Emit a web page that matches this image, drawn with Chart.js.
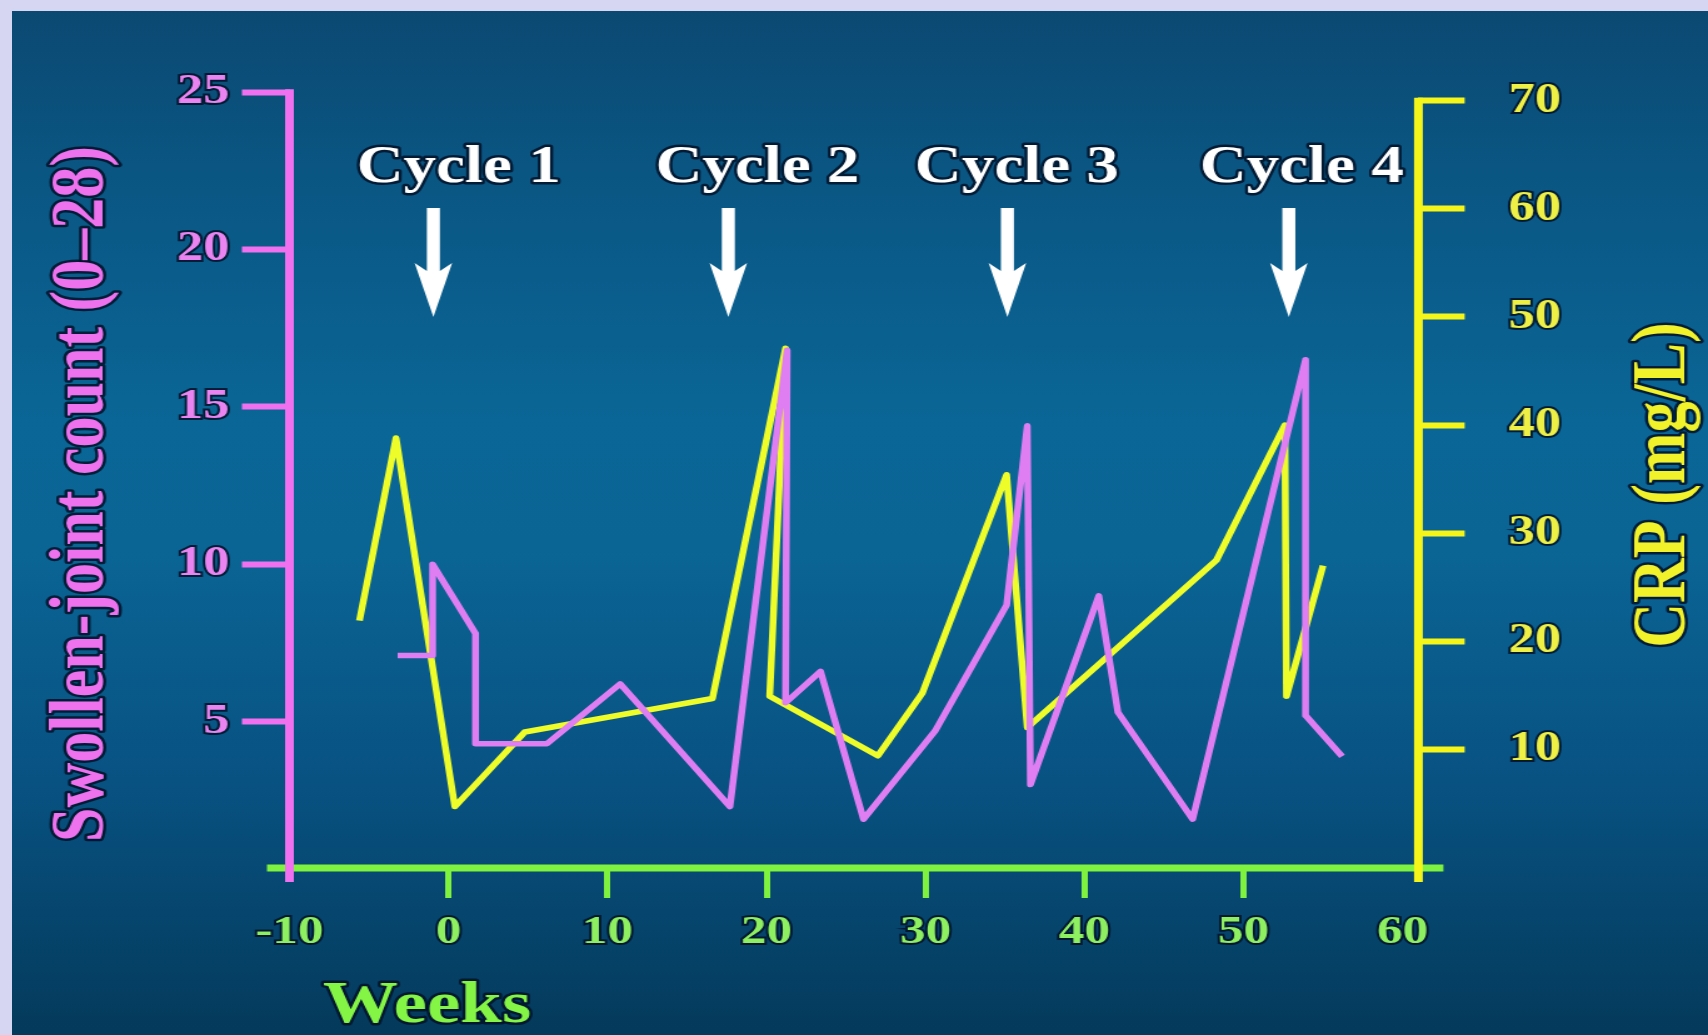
<!DOCTYPE html>
<html>
<head>
<meta charset="utf-8">
<script src="https://cdn.jsdelivr.net/npm/chart.js@4.4.1/dist/chart.umd.min.js"></script>
<style>
  html, body { margin: 0; padding: 0; width: 1708px; height: 1035px; overflow: hidden; background: #d6d6f2; }
  #panel {
    position: absolute; left: 12px; top: 11px; right: 0; bottom: 0;
    background: linear-gradient(to bottom, #0b4972 0%, #0a5582 15%, #0a6696 40%, #0a6595 52%, #085282 75%, #043a5b 100%);
  }
  /* slide layout is drawn at 4:3 proportions and widened to the page */
  #wrap { position: absolute; left: 0; top: 0; width: 1366px; height: 1035px; transform: scaleX(1.25037); transform-origin: 0 0; }
</style>
</head>
<body>
<div id="panel"></div>
<div id="wrap"><canvas id="chart"></canvas></div>
<script>
// Swollen-joint count (0–28) over time
const jointWeeks  = [-3.2, -1.0, -1.0, 1.7, 1.7, 6.2, 10.8, 17.7, 21.3, 21.2, 23.4, 26.1, 30.6, 35.1, 36.4, 36.6, 40.9, 42.1, 46.8, 53.9, 53.9, 56.2];
const jointCounts = [7.1, 7.1, 10.0, 7.8, 4.3, 4.3, 6.2, 2.3, 16.8, 5.6, 6.6, 1.9, 4.7, 8.7, 14.4, 3.0, 9.0, 5.3, 1.9, 16.5, 5.2, 3.9];

// CRP (mg/L) over time
const crpWeeks  = [-5.6, -3.3, 0.4, 4.8, 16.6, 21.2, 20.2, 27.0, 29.8, 35.1, 36.4, 48.3, 52.6, 52.7, 55.0];
const crpValues = [21.9, 38.8, 4.7, 11.6, 14.7, 47.1, 14.9, 9.4, 15.2, 35.4, 12.0, 27.5, 40.0, 14.9, 27.0];

// Axis ticks
const weekTicks  = [-10, 0, 10, 20, 30, 40, 50, 60];
const jointTicks = [5, 10, 15, 20, 25];
const crpTicks   = [10, 20, 30, 40, 50, 60, 70];

// Treatment cycles
const cycleLabels     = ['Cycle 1', 'Cycle 2', 'Cycle 3', 'Cycle 4'];
const cycleArrowWeeks = [-0.95, 17.6, 35.15, 52.85];
const cycleLabelWeeks = [0.64, 19.43, 35.74, 53.66];

const SERIF = "'Liberation Serif', 'Times New Roman', serif";
const PINK = '#f070f0';
const YELLOW = '#f5f51a';
const GREEN = '#7ef23e';
const OUTLINE = 'rgba(0, 18, 40, 0.85)';

function pts(xs, ys) { return xs.map((x, i) => ({ x: x, y: ys[i] })); }

function strokedText(ctx, text, x, y, fill, width) {
  ctx.lineJoin = 'round';
  ctx.strokeStyle = OUTLINE;
  ctx.lineWidth = width;
  ctx.strokeText(text, x, y);
  ctx.fillStyle = fill;
  ctx.fillText(text, x, y);
}

const slideDecor = {
  id: 'slideDecor',
  beforeDatasetsDraw(chart) {
    const { ctx, chartArea: a, scales } = chart;
    ctx.save();
    ctx.lineCap = 'butt';
    // week axis line, running a little past both value axes
    ctx.strokeStyle = GREEN;
    ctx.lineWidth = 7;
    ctx.beginPath();
    ctx.moveTo(a.left - 18, a.bottom);
    ctx.lineTo(a.right + 20, a.bottom);
    ctx.stroke();
    // joint-count axis
    ctx.strokeStyle = PINK;
    ctx.beginPath();
    ctx.moveTo(a.left, scales.y.getPixelForValue(jointTicks[jointTicks.length - 1]) - 3);
    ctx.lineTo(a.left, a.bottom + 14);
    ctx.stroke();
    // CRP axis
    ctx.strokeStyle = YELLOW;
    ctx.beginPath();
    ctx.moveTo(a.right, scales.y1.getPixelForValue(crpTicks[crpTicks.length - 1]) - 3);
    ctx.lineTo(a.right, a.bottom + 14);
    ctx.stroke();
    ctx.restore();
  },
  afterDraw(chart) {
    const { ctx, scales } = chart;
    const xs = scales.x;
    ctx.save();
    // cycle arrows
    ctx.fillStyle = '#ffffff';
    cycleArrowWeeks.forEach(w => {
      const x = xs.getPixelForValue(w);
      const top = 208, headTop = 263, tip = 317, sw = 5.2, hw = 15;
      ctx.beginPath();
      ctx.moveTo(x - sw, top);
      ctx.lineTo(x + sw, top);
      ctx.lineTo(x + sw, headTop + 8);
      ctx.lineTo(x + hw, headTop);
      ctx.lineTo(x, tip);
      ctx.lineTo(x - hw, headTop);
      ctx.lineTo(x - sw, headTop + 8);
      ctx.closePath();
      ctx.fill();
    });
    // cycle labels
    ctx.font = 'bold 52px ' + SERIF;
    ctx.textAlign = 'center';
    ctx.textBaseline = 'alphabetic';
    cycleLabels.forEach((t, i) => {
      strokedText(ctx, t, xs.getPixelForValue(cycleLabelWeeks[i]), 182, '#ffffff', 5);
    });
    // axis titles
    ctx.font = 'bold 60px ' + SERIF;
    ctx.textAlign = 'center';
    strokedText(ctx, 'Weeks', 341.5, 1022, '#84f545', 5);

    ctx.font = 'bold 62px ' + SERIF;
    ctx.textBaseline = 'middle';
    ctx.save();
    ctx.translate(65.6, 494);
    ctx.rotate(-Math.PI / 2);
    strokedText(ctx, 'Swollen-joint count (0\u201328)', 0, 0, '#ee72ee', 5);
    ctx.restore();

    ctx.save();
    ctx.translate(1331, 485);
    ctx.rotate(-Math.PI / 2);
    strokedText(ctx, 'CRP (mg/L)', 0, 0, '#f2f22a', 5);
    ctx.restore();
    ctx.restore();
  }
};

new Chart(document.getElementById('chart'), {
  type: 'line',
  data: {
    datasets: [
      {
        label: 'Swollen-joint count',
        data: pts(jointWeeks, jointCounts),
        yAxisID: 'y',
        borderColor: '#de7ef2',
        borderWidth: 5.5,
        borderJoinStyle: 'round',
        pointRadius: 0,
        tension: 0,
        fill: false
      },
      {
        label: 'CRP',
        data: pts(crpWeeks, crpValues),
        yAxisID: 'y1',
        borderColor: '#eefc2a',
        borderWidth: 5.5,
        borderJoinStyle: 'round',
        pointRadius: 0,
        tension: 0,
        fill: false
      }
    ]
  },
  plugins: [slideDecor],
  options: {
    responsive: true,
    maintainAspectRatio: false,
    devicePixelRatio: 1,
    animation: false,
    layout: { padding: { top: 86, left: 0, right: 0, bottom: 0 } },
    plugins: { legend: { display: false }, tooltip: { enabled: false } },
    scales: {
      x: {
        type: 'linear',
        position: 'bottom',
        min: -10,
        max: 61,
        afterFit: s => { s.height = 167; },
        afterBuildTicks: s => { s.ticks = weekTicks.map(v => ({ value: v })); },
        border: { display: false },
        grid: {
          drawOnChartArea: false,
          drawTicks: true,
          tickLength: 30,
          tickWidth: 5,
          tickColor: c => (c.tick && (c.tick.value === weekTicks[0] || c.tick.value === weekTicks[weekTicks.length - 1])) ? 'rgba(0,0,0,0)' : GREEN
        },
        ticks: {
          autoSkip: false,
          maxRotation: 0,
          padding: 10,
          color: '#8ef060',
          textStrokeColor: OUTLINE,
          textStrokeWidth: 4,
          font: { family: SERIF, size: 41, weight: 'bold' }
        }
      },
      y: {
        type: 'linear',
        position: 'left',
        min: 0.35,
        max: 25.2,
        afterFit: s => { s.width = 231.5; },
        afterBuildTicks: s => { s.ticks = jointTicks.map(v => ({ value: v })); },
        border: { display: false },
        grid: { drawOnChartArea: false, drawTicks: true, tickLength: 38, tickWidth: 6, tickColor: PINK },
        ticks: {
          padding: 10,
          color: '#ea84f0',
          textStrokeColor: OUTLINE,
          textStrokeWidth: 4,
          font: { family: SERIF, size: 42, weight: 'bold' }
        }
      },
      y1: {
        type: 'linear',
        position: 'right',
        min: -0.98,
        max: 71.36,
        afterFit: s => { s.width = 231.6; },
        afterBuildTicks: s => { s.ticks = crpTicks.map(v => ({ value: v })); },
        border: { display: false },
        grid: { drawOnChartArea: false, drawTicks: true, tickLength: 37, tickWidth: 6, tickColor: YELLOW },
        ticks: {
          padding: 35,
          color: '#eef046',
          textStrokeColor: OUTLINE,
          textStrokeWidth: 4,
          font: { family: SERIF, size: 42, weight: 'bold' }
        }
      }
    }
  }
});
</script>
</body>
</html>
